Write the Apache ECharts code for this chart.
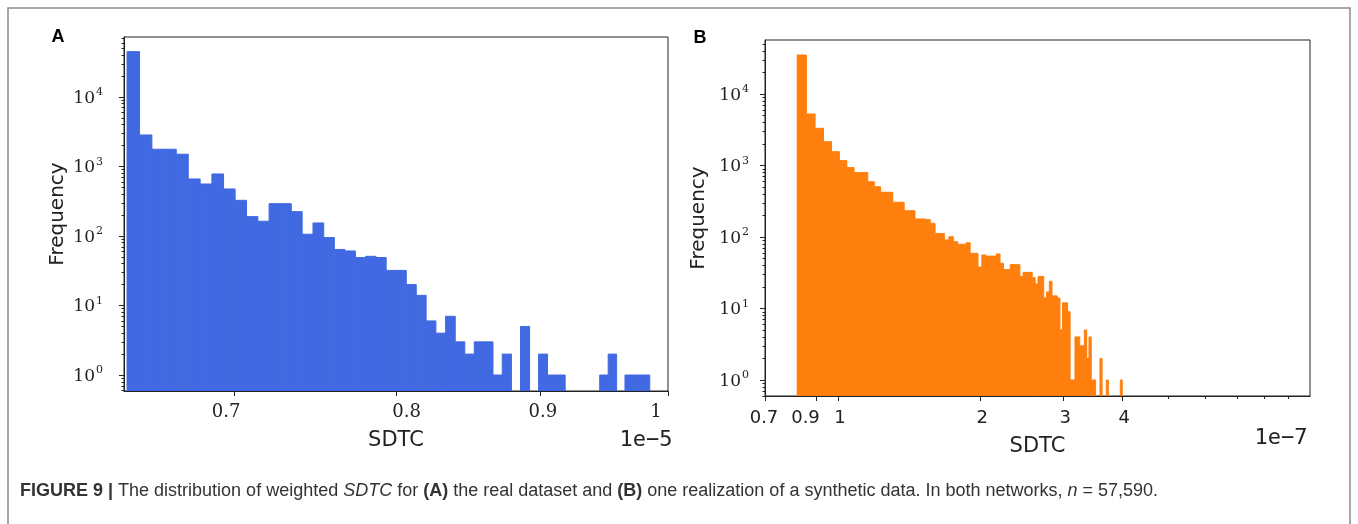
<!DOCTYPE html>
<html>
<head>
<meta charset="utf-8">
<script src="https://cdn.jsdelivr.net/npm/echarts@6/dist/echarts.min.js"></script>
<style>
html,body{margin:0;padding:0;background:#fff;}
#chart{width:1358px;height:524px;}
</style>
</head>
<body>
<div id="chart"></div>
<script>
// A: real dataset, 52 equal bins, SDTC in units of 1e-5
var rangeA = [0.641, 0.9851];
var countsA = [44900, 2840, 1770, 1770, 1500, 661, 560, 780, 475, 326, 190, 163, 292, 292, 224, 106, 154, 95, 64, 61,
	49, 51, 49, 32, 32, 20, 14, 6, 4, 7, 3, 2, 3, 3, 1, 2, 0, 5, 0, 2, 1, 1, 0, 0, 0, 0, 1, 2, 0, 1, 1, 1];
// B: synthetic data, 85 equal bins, SDTC in units of 1e-7
var rangeB = [0.819, 4.0];
var countsB = [35100, 5250, 3310, 2150, 1560, 1170, 935, 795, 795, 593, 505, 422, 422, 306, 306, 233, 233, 179, 179, 175,
	155, 112, 112, 91, 101, 86, 79, 79, 83, 59, 59, 38, 56, 54, 54, 54, 58, 43, 35, 35,
	41, 41, 41, 28, 32, 32, 32, 27, 22, 28, 28, 14, 17, 24, 15, 15, 14, 5, 12, 12,
	9, 1, 1, 4, 4, 3, 3, 5, 2, 4, 1, 1, 0, 0, 2, 0, 0, 1, 0, 0, 0, 0, 0, 0, 1];

var xTicksA = [0.7, 0.8, 0.9, 1];
var xTicksB = [0.7, 0.9, 1, 2, 3, 4];
var xMinorB = [5, 6, 7, 8, 9];
var yTicks = [1, 10, 100, 1000, 10000];
var yMinor = [];
[0.1, 1, 10, 100, 1000, 10000].forEach(function(d) {
	for (var m = 2; m <= 9; m++) yMinor.push(+(m * d).toPrecision(3));
});

var ink = "#222";

//直方图数据
function histData(range, counts) {
	var w = (range[1] - range[0]) / counts.length, out = [];
	counts.forEach(function(c, i) {
		if (c > 0) out.push([range[0] + i * w, range[0] + (i + 1) * w, c]);
	});
	return out;
}

function binSeries(idx, range, counts, color) {
	return {
		type: 'custom',
		xAxisIndex: idx * 2,
		yAxisIndex: idx * 2,
		data: histData(range, counts),
		encode: { x: [0, 1], y: 2 },
		z: 2,
		renderItem: function(params, api) {
			var p0 = api.coord([api.value(0), api.value(2)]);
			var p1 = api.coord([api.value(1), api.value(2)]);
			var cs = params.coordSys;
			var bottom = cs.y + cs.height;
			return {
				type: 'rect',
				shape: { x: p0[0], y: p0[1], width: p1[0] - p0[0], height: bottom - p0[1] },
				style: { fill: color, stroke: color, lineWidth: 1 }
			};
		}
	};
}

function powLabel(v) {
	var e = Math.round(Math.log10(v));
	return '{b|10}{s|' + e + '}';
}

// tick labels of the scanned figure sit a little off their ticks
function tickLabel(v) {
	var t = String(+(+v).toPrecision(3));
	return '{k' + t.replace('.', '') + '|' + t + '}';
}

function yAxes(grid, min, max, margin) {
	return [{
		gridIndex: grid, type: 'log', min: min, max: max, z: 5, position: 'left',
		axisLine: { show: true, lineStyle: { color: ink, width: 1 } },
		axisTick: { show: true, customValues: yTicks, length: 5, lineStyle: { color: ink } },
		axisLabel: {
			customValues: yTicks, formatter: powLabel, margin: margin, color: ink,
			rich: {
				b: { fontFamily: 'DejaVu Serif', fontSize: 17, color: ink, verticalAlign: 'bottom' },
				s: { fontFamily: 'DejaVu Serif', fontSize: 11, color: ink, verticalAlign: 'bottom', padding: [0, 0, 9, 1] }
			}
		},
		splitLine: { show: false },
		name: 'Frequency', nameLocation: 'middle', nameGap: 56,
		nameTextStyle: { fontFamily: 'DejaVu Sans', fontSize: 20, color: ink }
	}, {
		gridIndex: grid, type: 'log', min: min, max: max, z: 5, position: 'left',
		axisLine: { show: false },
		axisTick: { show: true, customValues: yMinor, length: 2.5, lineStyle: { color: ink } },
		axisLabel: { show: false },
		splitLine: { show: false }
	}];
}

function xAxis(grid, min, max, ticks, minor, font, margin, gap, rich) {
	return [{
		gridIndex: grid, type: 'log', min: min, max: max, z: 5, position: 'bottom',
		axisLine: { show: true, lineStyle: { color: ink } },
		axisTick: { show: true, customValues: ticks, length: 5, lineStyle: { color: ink } },
		axisLabel: {
			customValues: ticks, margin: margin, color: ink, fontFamily: font, fontSize: 18,
			formatter: tickLabel, rich: rich
		},
		splitLine: { show: false },
		name: 'SDTC', nameLocation: 'middle', nameGap: gap,
		nameTextStyle: { fontFamily: 'DejaVu Sans', fontSize: 21, color: ink }
	}, {
		gridIndex: grid, type: 'log', min: min, max: max, z: 5, position: 'bottom',
		axisLine: { show: false },
		axisTick: { show: minor.length > 0, customValues: minor.length ? minor : [max], length: 3, lineStyle: { color: ink } },
		axisLabel: { show: false },
		splitLine: { show: false }
	}];
}

function richSet(font, shifts) {
	var r = {};
	Object.keys(shifts).forEach(function(k) {
		var s = shifts[k];
		r[k] = { fontFamily: font, fontSize: 18, color: ink,
			padding: s < 0 ? [0, -2 * s, 0, 0] : [0, 0, 0, 2 * s] };
	});
	return r;
}

var myChart = echarts.init(document.getElementById('chart'));
myChart.setOption({
	animation: false,
	backgroundColor: '#fff',
	grid: [
		{ left: 124, top: 37, width: 544, height: 354, show: true, borderColor: ink, borderWidth: 1 },
		{ left: 765, top: 40, width: 545, height: 356, show: true, borderColor: ink, borderWidth: 1 }
	],
	xAxis: xAxis(0, 0.6394, 1, xTicksA, [], 'DejaVu Serif', 12, 39,
			richSet('DejaVu Serif', { k07: -8, k08: 10, k09: 3, k1: -12 }))
		.concat(xAxis(1, 0.7, 10, xTicksB, xMinorB, 'DejaVu Sans', 13, 40,
			richSet('DejaVu Sans', { k07: -1, k09: -11, k1: 2, k2: 2, k3: 2, k4: 2 }))),
	yAxis: yAxes(0, 0.589, 72900, 21).concat(yAxes(1, 0.597, 56900, 16)),
	series: [
		binSeries(0, rangeA, countsA, '#4169e1'),
		binSeries(1, rangeB, countsB, '#ff7f0e')
	],
	graphic: [
		{ type: 'rect', silent: true, z: -1, shape: { x: 8, y: 8, width: 1342, height: 540 },
			style: { fill: 'none', stroke: '#8a8a8a', lineWidth: 1.5 } },
		{ type: 'text', x: 58, y: 37, style: { text: 'A', fontFamily: 'Liberation Sans', fontWeight: 'bold', fontSize: 18, fill: '#000', align: 'center', verticalAlign: 'middle' } },
		{ type: 'text', x: 700, y: 38, style: { text: 'B', fontFamily: 'Liberation Sans', fontWeight: 'bold', fontSize: 18, fill: '#000', align: 'center', verticalAlign: 'middle' } },
		{ type: 'text', x: 646, y: 440, style: { text: '1e\u22125', fontFamily: 'DejaVu Sans Mono', fontSize: 22, fill: ink, align: 'center', verticalAlign: 'middle' } },
		{ type: 'text', x: 1281, y: 438, style: { text: '1e\u22127', fontFamily: 'DejaVu Sans Mono', fontSize: 22, fill: ink, align: 'center', verticalAlign: 'middle' } },
		{
			type: 'text', x: 20, y: 491,
			style: {
				text: '{b|FIGURE 9 | }{r|The distribution of weighted }{i|SDTC}{r| for }{b|(A)}{r| the real dataset and }{b|(B)}{r| one realization of a synthetic data. In both networks, }{i|n}{r| = 57,590.}',
				verticalAlign: 'middle',
				rich: {
					r: { fontFamily: 'Liberation Sans', fontSize: 18, fill: '#333' },
					b: { fontFamily: 'Liberation Sans', fontSize: 18, fontWeight: 'bold', fill: '#333' },
					i: { fontFamily: 'Liberation Sans', fontSize: 18, fontStyle: 'italic', fill: '#333' }
				}
			}
		}
	]
});
</script>
</body>
</html>
